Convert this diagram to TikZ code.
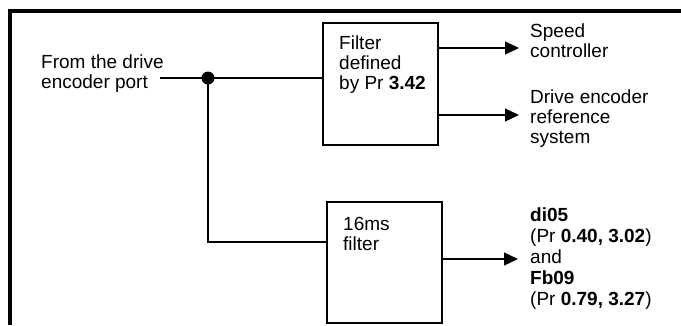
\documentclass[tikz,border=0pt]{standalone}
\usepackage{fontspec}
\setmainfont{Liberation Sans}
\usetikzlibrary{arrows.meta, positioning}
\tikzset{
	fbox/.style={draw=black, line width=1.2pt, minimum width=115pt, inner sep=0pt},
	ftxt/.style={anchor=north west, align=left, inner sep=0pt, font=\fontsize{19}{20}\selectfont},
	fout/.style={anchor=west, align=left, inner sep=0pt, font=\fontsize{19}{21}\selectfont},
	farr/.style={-{Triangle[length=14pt, width=13pt]}, line width=1.2pt},
	fwire/.style={line width=1.2pt},
	fframe/.style={line width=4pt}
}

\begin{document}
\begin{tikzpicture}[x=1pt, y=-1pt]
	\useasboundingbox (0,0) rectangle (681,325);
	\draw[fframe] (681,11) -- (10,11) -- (10,325);
	\node[fbox, minimum height=122pt] (filt) at (380.5,84) {};
	\node[fbox, minimum height=121pt] (sixt) at (384.5,262.5) {};
	\node[ftxt] (filttxt) at (339,36) {Filter\\defined\\by Pr \textbf{3.42}};
	\node[ftxt] (sixttxt) at (343,217) {16ms\\filter};
	\node[ftxt] (src) at (41,55) {From the drive\\encoder port};
	\node[ftxt] (spd) at (530,24) {Speed\\controller};
	\node[ftxt] (ref) at (530,90) {Drive encoder\\reference\\system};
	\node[fout] (out) at (530,259) {\textbf{di05}\\(Pr \textbf{0.40, 3.02})\\and\\\textbf{Fb09}\\(Pr \textbf{0.79, 3.27})};
	\node[circle, fill, inner sep=0pt, minimum size=13pt] (split) at (208,78) {};
	\coordinate (srcend) at (160,78);
	\coordinate (bend) at (208,242);
	\coordinate (spdtip) at (519,48);
	\coordinate (reftip) at (519,115);
	\draw[fwire] (srcend) -- (filt.west |- srcend);
	\draw[fwire] (split.center) -- (bend) -- (sixt.west |- bend);
	\draw[farr] (filt.east |- spdtip) -- (spdtip);
	\draw[farr] (filt.east |- reftip) -- (reftip);
	\draw[farr] (sixt.east |- out.west) -- ([xshift=-12pt]out.west);
\end{tikzpicture}
\end{document}
